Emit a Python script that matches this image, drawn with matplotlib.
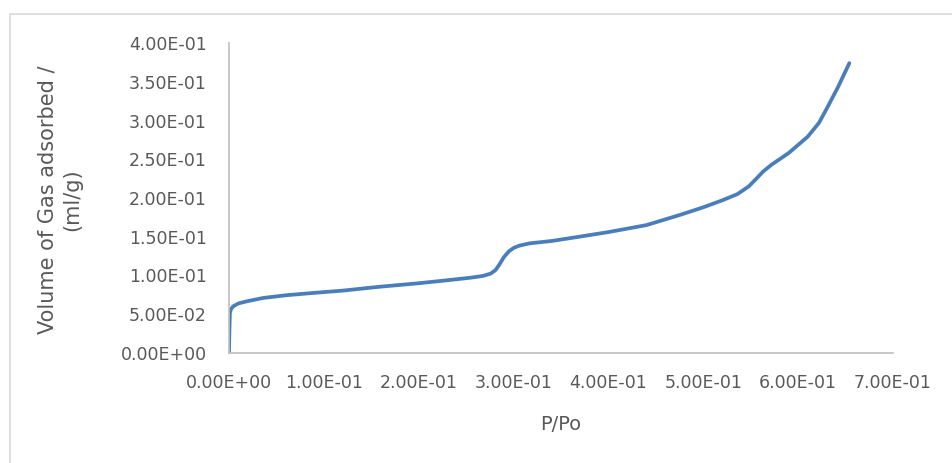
import matplotlib
matplotlib.use('Agg')
import matplotlib.pyplot as plt
import matplotlib.ticker as ticker
from matplotlib.patches import Rectangle

# P/Po vs volume adsorbed
p_po = [0.0, 0.0005, 0.001, 0.002, 0.0042, 0.01, 0.02, 0.036, 0.06, 0.089,
        0.12, 0.159, 0.2, 0.229, 0.255, 0.268, 0.276, 0.281, 0.285, 0.29,
        0.295, 0.30, 0.306, 0.317, 0.34, 0.369, 0.40, 0.44, 0.475, 0.50,
        0.52, 0.536, 0.548, 0.556, 0.563, 0.572, 0.59, 0.61, 0.622, 0.63,
        0.642, 0.654]
volume = [0.0, 0.03, 0.052, 0.056, 0.060, 0.064, 0.067, 0.071, 0.0745, 0.0775,
          0.0805, 0.0855, 0.090, 0.0937, 0.0972, 0.0995, 0.1025, 0.107, 0.114, 0.124,
          0.131, 0.1355, 0.1385, 0.1415, 0.1445, 0.150, 0.156, 0.165, 0.178, 0.188,
          0.197, 0.205, 0.215, 0.225, 0.234, 0.243, 0.258, 0.279, 0.297, 0.315,
          0.343, 0.374]

x_ticks = [0.0, 0.1, 0.2, 0.3, 0.4, 0.5, 0.6, 0.7]
y_ticks = [0.0, 0.05, 0.10, 0.15, 0.20, 0.25, 0.30, 0.35, 0.40]

grey = '#595959'
axis_grey = '#BFBFBF'

fig = plt.figure(figsize=(9.52, 4.63), dpi=100)
ax = fig.add_axes([0.2405, 0.2376, 0.6975, 0.6695])

ax.plot(p_po, volume, color='#4A7EBB', linewidth=2.7,
        solid_joinstyle='round', solid_capstyle='round')

ax.set_xlim(0, 0.7)
ax.set_ylim(0, 0.4)
ax.set_xticks(x_ticks)
ax.set_yticks(y_ticks)

fmt = ticker.FuncFormatter(lambda v, pos: '{:.2E}'.format(v))
ax.xaxis.set_major_formatter(fmt)
ax.yaxis.set_major_formatter(fmt)

ax.tick_params(axis='both', length=0, labelsize=12.5, labelcolor=grey)
ax.tick_params(axis='y', pad=16)
ax.tick_params(axis='x', pad=15)

for side in ['top', 'right']:
    ax.spines[side].set_visible(False)
for side in ['left', 'bottom']:
    ax.spines[side].set_color(axis_grey)
    ax.spines[side].set_linewidth(1.2)

ax.set_xlabel('P/Po', fontsize=14, color=grey, va='center')
ax.xaxis.set_label_coords(0.5, (353 - 425) / 310)
ax.set_ylabel('Volume of Gas adsorbed /\n(ml/g)', fontsize=15, color=grey,
              linespacing=1.3, va='center')
ax.yaxis.set_label_coords((60 - 229) / 664, (353 - 200) / 310)

# light chart-area border
fig.patches.append(Rectangle((10 / 952, -0.1), 1.2, 1 - 14 / 463 + 0.1,
                             transform=fig.transFigure, fill=False,
                             edgecolor='#D9D9D9', linewidth=1.2))

fig.savefig('out.png', dpi=100)
